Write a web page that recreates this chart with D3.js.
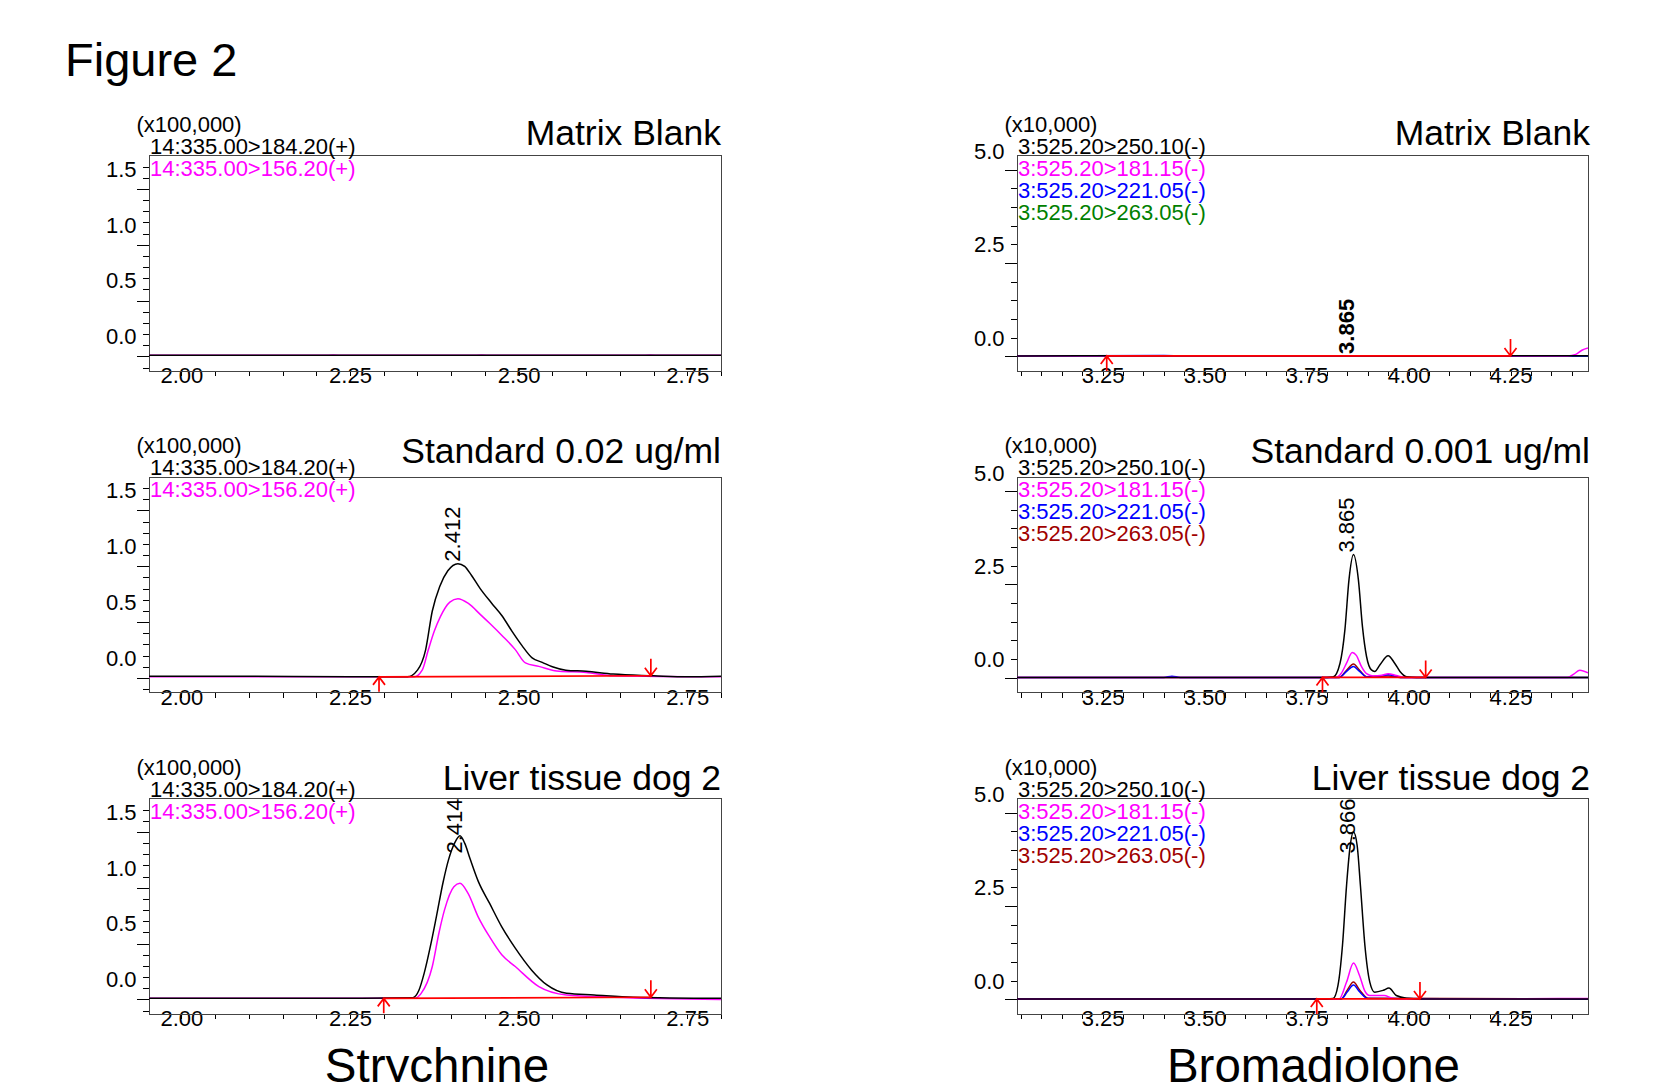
<!DOCTYPE html>
<html>
<head>
<meta charset="utf-8">
<script src="https://cdn.jsdelivr.net/npm/d3@7"></script>
<style>
  body { margin: 0; background: #fff; }
  svg { font-family: "Liberation Sans", Arial, sans-serif; }
</style>
</head>
<body>
<div id="chart"></div>
<script>
// ---------- data (time in min, intensity in scaled units) ----------

// Strychnine, channel 184.20 (black) and 156.20 (magenta)
var strychBlank184 = [[1.952,-0.19],[2.10,-0.19],[2.40,-0.19],[2.60,-0.19],[2.80,-0.19]]
var strychBlank156 = [[1.952,-0.19],[2.21,-0.19],[2.225,-0.186],[2.24,-0.19],[2.43,-0.19],[2.445,-0.186],[2.46,-0.19],[2.68,-0.19],[2.695,-0.186],[2.71,-0.19],[2.80,-0.19]]

var strychStd184 = [[1.952,-0.185],[2.10,-0.185],[2.25,-0.19],[2.335,-0.19],[2.35,-0.13],[2.362,0.05],[2.372,0.40],[2.383,0.62],[2.395,0.76],[2.41,0.824],[2.42,0.80],[2.43,0.72],[2.443,0.60],[2.46,0.47],[2.475,0.36],[2.49,0.22],[2.505,0.09],[2.52,-0.02],[2.535,-0.06],[2.55,-0.10],[2.57,-0.13],[2.60,-0.14],[2.64,-0.165],[2.70,-0.18],[2.75,-0.19],[2.80,-0.185]]
var strychStd156 = [[1.952,-0.19],[2.25,-0.19],[2.345,-0.19],[2.357,-0.13],[2.366,0.05],[2.375,0.22],[2.384,0.35],[2.398,0.48],[2.41,0.51],[2.425,0.47],[2.443,0.37],[2.457,0.29],[2.477,0.17],[2.495,0.054],[2.51,-0.065],[2.53,-0.096],[2.56,-0.14],[2.60,-0.15],[2.64,-0.18],[2.80,-0.19]]

var strychLiver184 = [[1.952,-0.19],[2.25,-0.19],[2.343,-0.185],[2.352,-0.12],[2.36,0.036],[2.37,0.30],[2.378,0.54],[2.388,0.85],[2.396,1.05],[2.405,1.20],[2.413,1.266],[2.42,1.20],[2.428,1.06],[2.44,0.86],[2.457,0.66],[2.475,0.45],[2.495,0.26],[2.519,0.065],[2.542,-0.07],[2.571,-0.145],[2.612,-0.16],[2.67,-0.18],[2.80,-0.19]]
var strychLiver156 = [[1.952,-0.19],[2.25,-0.19],[2.345,-0.19],[2.355,-0.15],[2.372,0.095],[2.382,0.40],[2.39,0.60],[2.404,0.81],[2.413,0.84],[2.425,0.75],[2.44,0.54],[2.457,0.36],[2.475,0.20],[2.495,0.095],[2.53,-0.085],[2.571,-0.16],[2.641,-0.18],[2.80,-0.20]]

var strychInteg = [null, [[2.293,-0.19],[2.696,-0.18]], [[2.300,-0.19],[2.696,-0.18]]]
var strychPeakTimes = [null, 2.412, 2.414]
var strychPeakHeights = [null, 0.824, 1.266]

// Bromadiolone, channels 250.10 / 181.15 / 221.05 / 263.05
var bromaBlank250 = [[3.04,-0.49],[3.50,-0.485],[4.00,-0.49],[4.44,-0.485]]
var bromaBlank181 = [[3.04,-0.49],[4.39,-0.49],[4.41,-0.45],[4.425,-0.34],[4.44,-0.28]]
var bromaBlank221 = [[3.04,-0.49],[3.40,-0.48],[3.45,-0.49],[4.44,-0.49]]
var bromaBlank263 = [[3.04,-0.49],[4.44,-0.49]]

var bromaStd250 = [[3.04,-0.49],[3.60,-0.49],[3.80,-0.49],[3.815,-0.48],[3.832,-0.11],[3.844,0.79],[3.854,2.13],[3.865,2.80],[3.877,2.13],[3.887,0.87],[3.897,0.07],[3.909,-0.29],[3.917,-0.33],[3.93,-0.15],[3.95,0.09],[3.966,-0.11],[3.979,-0.33],[3.995,-0.47],[4.02,-0.49],[4.44,-0.49]]
var bromaStd181 = [[3.04,-0.49],[3.823,-0.49],[3.835,-0.38],[3.848,-0.11],[3.862,0.18],[3.872,0.10],[3.885,-0.21],[3.897,-0.39],[3.913,-0.45],[3.935,-0.43],[3.95,-0.39],[3.97,-0.44],[3.99,-0.49],[4.39,-0.49],[4.405,-0.40],[4.42,-0.30],[4.44,-0.37]]
var bromaStd221 = [[3.04,-0.49],[3.40,-0.49],[3.42,-0.46],[3.44,-0.49],[3.83,-0.49],[3.848,-0.33],[3.865,-0.20],[3.88,-0.33],[3.897,-0.47],[3.93,-0.45],[3.95,-0.42],[3.98,-0.49],[4.44,-0.49]]
var bromaStd263 = [[3.04,-0.49],[3.83,-0.49],[3.848,-0.30],[3.865,-0.13],[3.88,-0.30],[3.897,-0.47],[3.95,-0.45],[3.98,-0.49],[4.44,-0.49]]

var bromaLiver250 = [[3.04,-0.49],[3.80,-0.49],[3.815,-0.48],[3.827,-0.13],[3.838,0.94],[3.848,2.55],[3.856,3.53],[3.865,3.98],[3.874,3.62],[3.882,2.55],[3.893,0.94],[3.905,-0.04],[3.917,-0.31],[3.938,-0.26],[3.952,-0.20],[3.97,-0.40],[3.995,-0.47],[4.03,-0.49],[4.44,-0.49]]
var bromaLiver181 = [[3.04,-0.49],[3.83,-0.49],[3.848,-0.04],[3.865,0.47],[3.88,0.13],[3.893,-0.28],[3.905,-0.40],[3.94,-0.40],[3.96,-0.47],[3.98,-0.49],[4.44,-0.48]]
var bromaLiver221 = [[3.04,-0.49],[3.835,-0.49],[3.85,-0.30],[3.865,-0.12],[3.88,-0.30],[3.90,-0.48],[4.44,-0.49]]
var bromaLiver263 = [[3.04,-0.49],[3.835,-0.49],[3.85,-0.25],[3.865,-0.04],[3.88,-0.25],[3.90,-0.47],[4.44,-0.49]]

var bromaInteg = [[[3.26,-0.49],[4.25,-0.49]], [[3.789,-0.49],[4.042,-0.49]], [[3.775,-0.49],[4.028,-0.49]]]
var bromaPeakTimes = [3.865, 3.865, 3.866]
var bromaPeakHeights = [-0.49, 2.80, 3.98]

// labels
var strychChannels = ['14:335.00>184.20(+)', '14:335.00>156.20(+)']
var bromaChannels = ['3:525.20>250.10(-)', '3:525.20>181.15(-)', '3:525.20>221.05(-)', '3:525.20>263.05(-)']
var strychTitles = ['Matrix Blank', 'Standard 0.02 ug/ml', 'Liver tissue dog 2']
var bromaTitles = ['Matrix Blank', 'Standard 0.001 ug/ml', 'Liver tissue dog 2']
var strychXLabels = [2.00, 2.25, 2.50, 2.75]
var bromaXLabels = [3.25, 3.50, 3.75, 4.00, 4.25]
var strychYLabels = [0.0, 0.5, 1.0, 1.5]
var bromaYLabels = [0.0, 2.5, 5.0]

// ---------- layout ----------
var width = 1672, height = 1082
var rowTop = [155.5, 477, 798.5]
var boxH = 215.5
var titleOffset = [-10.5, -14, -9]

var columns = [
    {
        left: 149, right: 721, xDomain: [1.952, 2.80], yDomain: [-0.33, 1.60],
        xLabels: strychXLabels, yLabels: strychYLabels,
        xMinor: d3.range(40, 57).map(function(d) { return d / 20 }),
        yMinor: d3.range(-3, 16).map(function(d) { return d / 10 }),
        yMajor: [-0.2, 0.3, 0.8, 1.3],
        unit: '(x100,000)', channels: strychChannels, name: 'Strychnine', nameX: 437,
        titleShift: 0, yLabelShift: 2.5
    },
    {
        left: 1017, right: 1588, xDomain: [3.04, 4.44], yDomain: [-0.895, 4.88],
        xLabels: bromaXLabels, yLabels: bromaYLabels,
        xMinor: d3.range(61, 89).map(function(d) { return d / 20 }),
        yMinor: d3.range(-1, 10).map(function(d) { return d / 2 }),
        yMajor: [-0.5, 2.0, 4.5],
        unit: '(x10,000)', channels: bromaChannels, name: 'Bromadiolone', nameX: 1313.5,
        titleShift: 2, yLabelShift: 0.5
    }
]

var panels = [
    {col: 0, row: 0, title: strychTitles[0], traces: [strychBlank184, strychBlank156], colors: ['#000000', '#ff00ff'], integ: strychInteg[0], peakT: strychPeakTimes[0], peakV: strychPeakHeights[0]},
    {col: 0, row: 1, title: strychTitles[1], traces: [strychStd184, strychStd156], colors: ['#000000', '#ff00ff'], integ: strychInteg[1], peakT: strychPeakTimes[1], peakV: strychPeakHeights[1]},
    {col: 0, row: 2, title: strychTitles[2], traces: [strychLiver184, strychLiver156], colors: ['#000000', '#ff00ff'], integ: strychInteg[2], peakT: strychPeakTimes[2], peakV: strychPeakHeights[2]},
    {col: 1, row: 0, title: bromaTitles[0], traces: [bromaBlank250, bromaBlank181, bromaBlank221, bromaBlank263], colors: ['#000000', '#ff00ff', '#0000ff', '#008000'], integ: bromaInteg[0], peakT: bromaPeakTimes[0], peakV: bromaPeakHeights[0], bold: true},
    {col: 1, row: 1, title: bromaTitles[1], traces: [bromaStd250, bromaStd181, bromaStd221, bromaStd263], colors: ['#000000', '#ff00ff', '#0000ff', '#a00000'], integ: bromaInteg[1], peakT: bromaPeakTimes[1], peakV: bromaPeakHeights[1]},
    {col: 1, row: 2, title: bromaTitles[2], traces: [bromaLiver250, bromaLiver181, bromaLiver221, bromaLiver263], colors: ['#000000', '#ff00ff', '#0000ff', '#a00000'], integ: bromaInteg[2], peakT: bromaPeakTimes[2], peakV: bromaPeakHeights[2]}
]

var svg = d3.select('#chart')
    .append('svg')
    .attr('width', width)
    .attr('height', height)

svg.append('rect').attr('width', width).attr('height', height).attr('fill', '#fff')

svg.append('text')
    .attr('x', 65)
    .attr('y', 76)
    .attr('font-size', 47)
    .text('Figure 2')

// compound names sit on the bottom edge, descenders clipped as in the source figure
columns.forEach(function(c) {
    svg.append('text')
        .attr('x', c.nameX)
        .attr('y', 1082)
        .attr('text-anchor', 'middle')
        .attr('font-size', 47.5)
        .text(c.name)
})

panels.forEach(function(p, i) { drawPanel(p, i) })

function drawPanel(p, idx) {
    var c = columns[p.col]
    var top = rowTop[p.row], bottom = top + boxH

    var x = d3.scaleLinear().domain(c.xDomain).range([c.left, c.right])
    var y = d3.scaleLinear().domain(c.yDomain).range([bottom, top])

    var g = svg.append('g')

    g.append('clipPath')
        .attr('id', 'clip' + idx)
        .append('rect')
        .attr('x', c.left).attr('y', top)
        .attr('width', c.right - c.left).attr('height', boxH)

    // y ticks
    g.append('g')
        .attr('transform', 'translate(' + c.left + ',0)')
        .call(d3.axisLeft(y).tickValues(c.yMinor).tickSize(6.5).tickFormat(''))
        .call(function(a) { a.select('.domain').remove() })
    g.append('g')
        .attr('transform', 'translate(' + c.left + ',0)')
        .call(d3.axisLeft(y).tickValues(c.yMajor).tickSize(12.5).tickFormat(''))
        .call(function(a) { a.select('.domain').remove() })
    g.append('g')
        .attr('transform', 'translate(' + c.left + ',' + c.yLabelShift + ')')
        .call(d3.axisLeft(y).tickValues(c.yLabels).tickSize(0).tickPadding(12.5).tickFormat(d3.format('.1f')))
        .call(function(a) { a.select('.domain').remove() })

    // x ticks
    g.append('g')
        .attr('transform', 'translate(0,' + bottom + ')')
        .call(d3.axisBottom(x).tickValues(c.xMinor).tickSize(5).tickFormat(''))
        .call(function(a) { a.select('.domain').remove() })
    g.append('g')
        .attr('transform', 'translate(0,' + bottom + ')')
        .call(d3.axisBottom(x).tickValues(c.xLabels).tickSize(0).tickPadding(-3.5).tickFormat(d3.format('.2f')))
        .call(function(a) { a.select('.domain').remove() })

    g.selectAll('.tick text')
        .attr('font-family', '"Liberation Sans", Arial, sans-serif')
        .attr('font-size', 22)
        .attr('fill', '#000')
    g.selectAll('.tick line').attr('stroke', '#000').attr('shape-rendering', 'crispEdges')

    // box
    g.append('rect')
        .attr('x', c.left).attr('y', top)
        .attr('width', c.right - c.left).attr('height', boxH)
        .attr('fill', 'none')
        .attr('stroke', '#444')
        .attr('shape-rendering', 'crispEdges')

    // traces (last channel first, black on top)
    var line = d3.line()
        .x(function(d) { return x(d[0]) })
        .y(function(d) { return y(d[1]) })
        .curve(d3.curveMonotoneX)

    var order = d3.range(p.traces.length).reverse()
    g.append('g')
        .attr('clip-path', 'url(#clip' + idx + ')')
        .selectAll('path')
        .data(order)
        .enter()
        .append('path')
        .attr('d', function(k) { return line(p.traces[k]) })
        .attr('fill', 'none')
        .attr('stroke', function(k) { return p.colors[k] })
        .attr('stroke-width', 1.5)

    // integration baseline and markers
    if (p.integ) {
        var s = p.integ[0], e = p.integ[1]
        var red = g.append('g').attr('stroke', '#ff0000').attr('stroke-width', 1.7).attr('fill', 'none')
        red.append('line')
            .attr('x1', x(s[0])).attr('y1', y(s[1]))
            .attr('x2', x(e[0])).attr('y2', y(e[1]))
        var sx = x(s[0]), sy = y(s[1])
        red.append('path')
            .attr('d', 'M' + sx + ',' + (sy + 15) + 'V' + sy + 'M' + (sx - 6) + ',' + (sy + 8) + 'L' + sx + ',' + sy + 'L' + (sx + 6) + ',' + (sy + 8))
        var ex = x(e[0]), ey = y(e[1])
        red.append('path')
            .attr('d', 'M' + ex + ',' + (ey - 17) + 'V' + ey + 'M' + (ex - 6) + ',' + (ey - 8) + 'L' + ex + ',' + ey + 'L' + (ex + 6) + ',' + (ey - 8))
    }

    // peak label
    if (p.peakT != null) {
        var lbl = g.append('text')
            .attr('font-size', 22)
            .attr('font-weight', p.bold ? 'bold' : 'normal')
            .text(d3.format('.3f')(p.peakT))
        var len = lbl.node().getComputedTextLength()
        var ly = Math.max(y(p.peakV) - 2, top + len)
        lbl.attr('transform', 'translate(' + (x(p.peakT) + 1) + ',' + ly + ') rotate(-90)')
    }

    // header
    g.append('text')
        .attr('x', c.left - 12.5)
        .attr('y', top - 24)
        .attr('font-size', 22)
        .text(c.unit)

    g.selectAll('.channel')
        .data(c.channels)
        .enter()
        .append('text')
        .attr('class', 'channel')
        .attr('x', c.left + 1)
        .attr('y', function(d, i) { return top - 2 + 22 * i })
        .attr('font-size', 22)
        .attr('fill', function(d, i) { return p.colors[i] })
        .text(function(d) { return d })

    g.append('text')
        .attr('x', c.right + c.titleShift)
        .attr('y', top + titleOffset[p.row])
        .attr('text-anchor', 'end')
        .attr('font-size', 35.5)
        .text(p.title)
}
</script>
</body>
</html>
